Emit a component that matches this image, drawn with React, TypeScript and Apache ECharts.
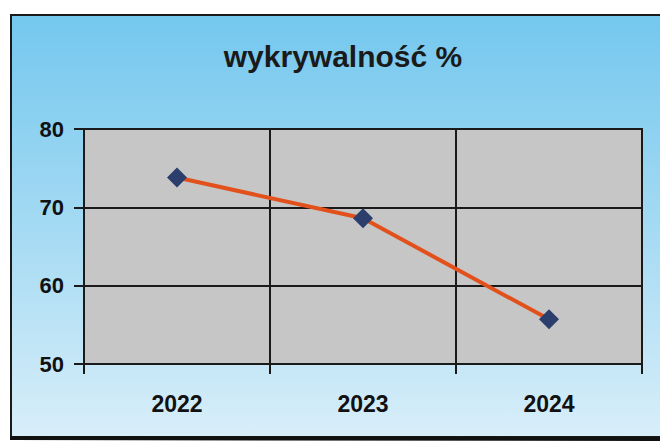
import React, { useEffect, useRef } from "react";
import * as echarts from "echarts";

const categories = ["2022", "2023", "2024"];
const values = [73.8, 68.6, 55.7];
const yTicks = { min: 50, max: 80, interval: 10 };
const titleText = "wykrywalność %";

export default function App() {
  const ref = useRef<HTMLDivElement>(null);
  useEffect(() => {
    if (!ref.current) return;
    const chart = echarts.init(ref.current, undefined, { renderer: "svg" });
    const font = "'Liberation Sans', Arial, sans-serif";
    chart.setOption({
      animation: false,
      backgroundColor: "#ffffff",
      graphic: [
        {
          type: "rect",
          z: -10,
          silent: true,
          shape: { x: 11, y: 15, width: 660, height: 422 },
          style: {
            fill: new echarts.graphic.LinearGradient(0, 0, 0, 1, [
              { offset: 0, color: "#74c7ee" },
              { offset: 0.5, color: "#a4daf3" },
              { offset: 1, color: "#d8eef9" },
            ]),
            stroke: "#1a1a1a",
            lineWidth: 2,
          },
        },
        {
          type: "line",
          z: -9,
          silent: true,
          shape: { x1: 10, y1: 438, x2: 660, y2: 439 },
          style: { stroke: "#111", lineWidth: 4 },
        },
      ],
      title: {
        text: titleText,
        left: 338,
        top: 36,
        textAlign: "center",
        textStyle: {
          fontFamily: font,
          fontWeight: "bold",
          fontSize: 30,
          color: "#1a1a1a",
        },
      },
      grid: {
        left: 84,
        right: 18,
        top: 129,
        bottom: 83,
        show: true,
        backgroundColor: "#c6c6c6",
        borderColor: "#222",
        borderWidth: 2,
      },
      xAxis: {
        type: "category",
        data: categories,
        boundaryGap: true,
        axisLine: { show: true, lineStyle: { color: "#1a1a1a", width: 2 } },
        axisTick: { show: true, length: 10, alignWithLabel: false, lineStyle: { color: "#1a1a1a", width: 2 } },
        splitLine: { show: true, lineStyle: { color: "#1a1a1a", width: 2 } },
        axisLabel: {
          margin: 28,
          fontFamily: font,
          fontWeight: "bold",
          fontSize: 23,
          color: "#111",
        },
      },
      yAxis: {
        type: "value",
        min: yTicks.min,
        max: yTicks.max,
        interval: yTicks.interval,
        axisLine: { show: true, lineStyle: { color: "#1a1a1a", width: 2 } },
        axisTick: { show: true, length: 10, lineStyle: { color: "#1a1a1a", width: 2 } },
        splitLine: { show: true, lineStyle: { color: "#1a1a1a", width: 2 } },
        axisLabel: {
          margin: 20,
          fontFamily: font,
          fontWeight: "bold",
          fontSize: 22,
          color: "#111",
        },
      },
      series: [
        {
          type: "line",
          data: values,
          symbol: "diamond",
          symbolSize: 20,
          lineStyle: { color: "#e2511c", width: 4 },
          itemStyle: { color: "#2b3e6c" },
          z: 5,
        },
      ],
    });
    return () => chart.dispose();
  }, []);
  return (
    <div
      ref={ref}
      style={{ position: "fixed", left: 0, top: 0, width: 660, height: 447 }}
    />
  );
}
